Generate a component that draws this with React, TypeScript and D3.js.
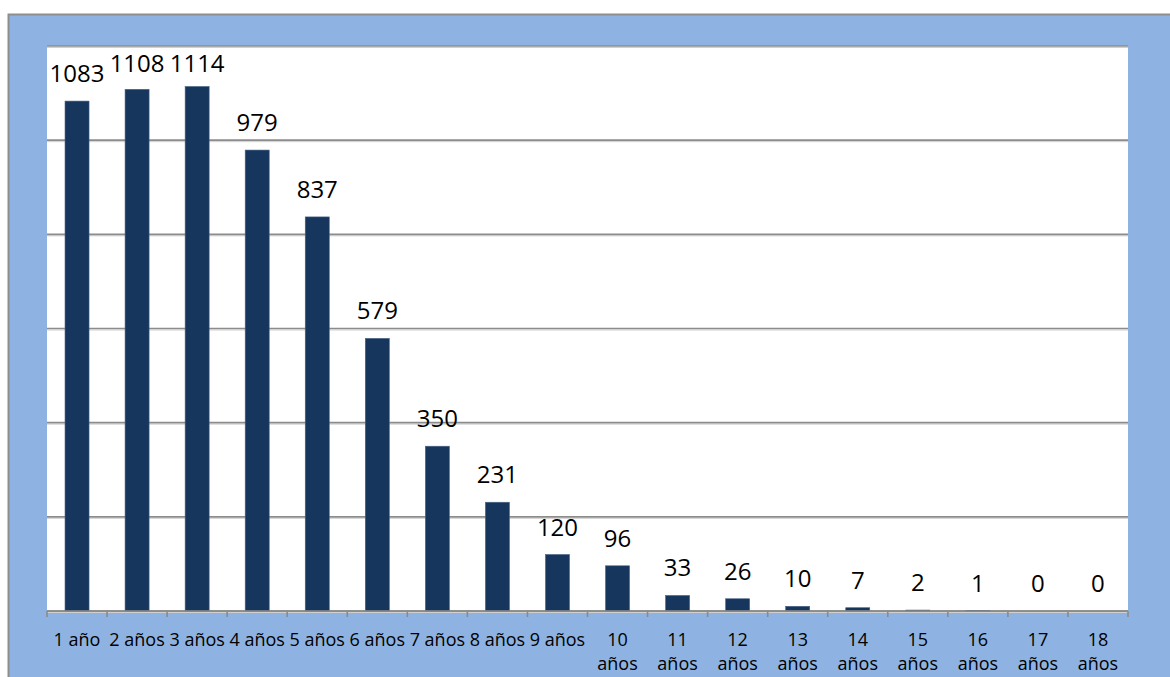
import * as d3 from 'd3';

const categories = [
    '1 año', '2 años', '3 años', '4 años', '5 años', '6 años', '7 años', '8 años', '9 años',
    '10 años', '11 años', '12 años', '13 años', '14 años', '15 años', '16 años', '17 años', '18 años'
];
const values = [1083, 1108, 1114, 979, 837, 579, 350, 231, 120, 96, 33, 26, 10, 7, 2, 1, 0, 0];
const yTicks = [0, 200, 400, 600, 800, 1000, 1200];

const W = 1170;
const H = 677;
const [pl, pr, pt, pb] = [47, 1128, 46, 611];

export default function App() {
    const x = d3.scaleBand<string>().domain(categories).range([pl, pr]).paddingInner(0.6).paddingOuter(0.3);
    const y = d3.scaleLinear().domain([0, 1200]).range([pb, pt]);
    const step = x.step();

    return (
        <div style={{ position: 'absolute', left: 0, top: 0 }}>
            <svg width={W} height={H} style={{ display: 'block', fontFamily: '"Open Sans", sans-serif' }}>
                <rect x={0} y={0} width={W} height={H} fill="#ffffff" />
                <rect x={8.5} y={14.5} width={W} height={H} fill="#8EB3E2" stroke="#8e8e8e" strokeWidth={2} />
                <rect x={pl} y={pt} width={pr - pl} height={pb - pt} fill="#ffffff" />
                {yTicks.map((t) => (
                    <g key={t}>
                        <line x1={pl} x2={pr} y1={y(t) + 1.5} y2={y(t) + 1.5} stroke="#d0d0d0" strokeWidth={1} />
                        <line x1={pl} x2={pr} y1={y(t)} y2={y(t)} stroke="#8c8c8c" strokeWidth={1.6} />
                    </g>
                ))}
                {categories.map((c, i) => (
                    <rect
                        key={c}
                        x={x(c)}
                        y={y(values[i])}
                        width={x.bandwidth()}
                        height={pb - y(values[i])}
                        fill="#17365D"
                        stroke="#4a6487"
                        strokeWidth={0.6}
                    />
                ))}
                <line x1={pl} x2={pr} y1={pb} y2={pb} stroke="#8a8a8a" strokeWidth={1.6} />
                {d3.range(categories.length + 1).map((i) => (
                    <line key={i} x1={pl + i * step} x2={pl + i * step} y1={pb} y2={pb + 6} stroke="#8a8a8a" strokeWidth={1.6} />
                ))}
                {categories.map((c, i) => (
                    // labels kept inside the plot area
                    <text key={c} x={x(c)! + x.bandwidth() / 2} y={Math.max(y(values[i]) - 19, pt + 26)} textAnchor="middle" fontSize={24} fill="#000">
                        {values[i]}
                    </text>
                ))}
                {categories.map((c) => {
                    const cx = x(c)! + x.bandwidth() / 2;
                    const lines = c.length > 6 ? c.split(' ') : [c];
                    return (
                        <text key={c} x={cx} y={646} textAnchor="middle" fontSize={18} fill="#000">
                            {lines.map((l, j) => (
                                <tspan key={j} x={cx} dy={j === 0 ? 0 : 24}>
                                    {l}
                                </tspan>
                            ))}
                        </text>
                    );
                })}
            </svg>
        </div>
    );
}
